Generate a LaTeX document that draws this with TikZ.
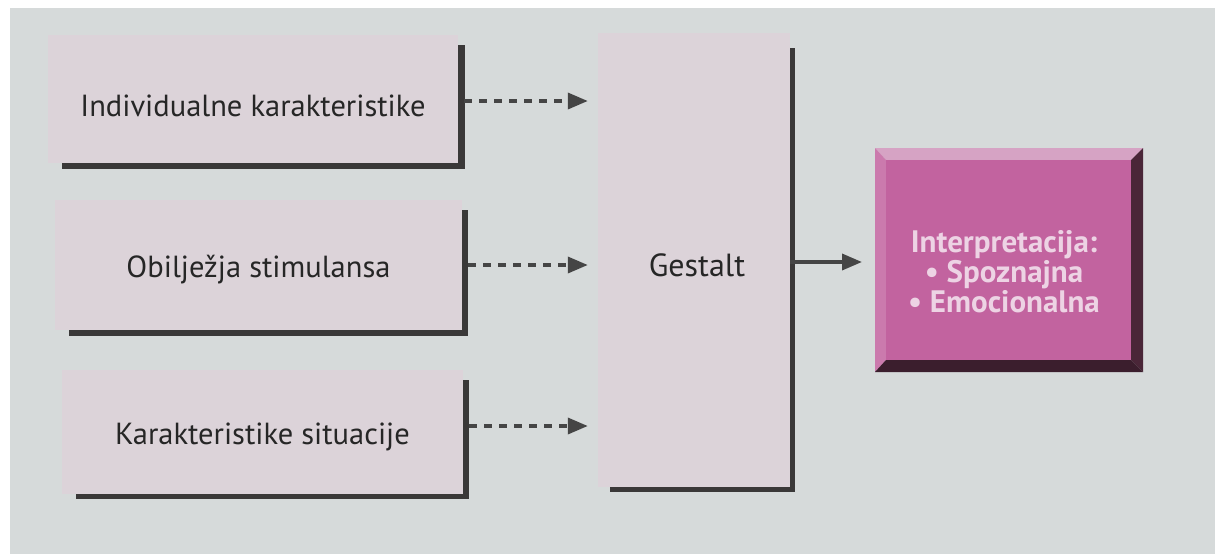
\documentclass[tikz,border=0pt]{standalone}
\usepackage{fontspec}
\setmainfont{PT Sans}
\usetikzlibrary{arrows.meta}
\definecolor{bgc}{HTML}{D6DADA}
\definecolor{boxc}{HTML}{DCD3D9}
\definecolor{shadc}{HTML}{3A3838}
\definecolor{arrc}{HTML}{454545}
\definecolor{purp}{HTML}{C2639F}
\definecolor{purplt}{HTML}{D6A3C4}
\definecolor{purpdk}{HTML}{4A2638}
\definecolor{purptx}{HTML}{EDD3E4}
\tikzset{
  inbox/.style={fill=boxc, draw=none, inner sep=0pt, font=\fontsize{30.5}{33}\selectfont, text=black!85},
  shad/.style={fill=shadc, draw=none},
  dasharrow/.style={draw=arrc, line width=3.5pt, dash pattern=on 8pt off 7pt, -{Triangle[length=20pt,width=16pt]}, shorten <=6pt, shorten >=10pt},
  solidarrow/.style={draw=arrc, line width=3.5pt, -{Triangle[length=20pt,width=16pt]}, shorten >=13pt}
}
\begin{document}
\begin{tikzpicture}[x=1pt,y=-1pt]
\useasboundingbox (0,0) rectangle (1215,554);
\fill[white] (0,0) rectangle (1215,554);
\fill[bgc] (10,8) rectangle (1215,554);
% shadows
\fill[shad] (62,45) rectangle (465,169);
\fill[shad] (69,210) rectangle (468,336);
\fill[shad] (76,380) rectangle (469,499);
\fill[shad] (610,48) rectangle (795,492);
% boxes
\node[inbox, minimum width=410pt, minimum height=128pt] (b1) at (253,99) {\raisebox{-7pt}[\height][\depth]{Individualne karakteristike}};
\node[inbox, minimum width=407pt, minimum height=130pt] (b2) at (258.5,265) {\raisebox{-5pt}[\height][\depth]{Obilježja stimulansa}};
\node[inbox, minimum width=401pt, minimum height=124pt] (b3) at (262.5,432) {\raisebox{-5pt}[\height][\depth]{Karakteristike situacije}};
\node[inbox, minimum width=192pt, minimum height=454pt] (g) at (694,260) {};
\node[font=\fontsize{32}{34}\selectfont, text=black!85] (gt) at (697,265) {Gestalt};
% purple box with bevel
\fill[purplt] (875,148) -- (1143,148) -- (1131,160) -- (886,160) -- cycle;
\fill[purp!85!white] (875,148) -- (886,160) -- (886,360) -- (875,372) -- cycle;
\fill[purpdk] (1143,148) -- (1143,372) -- (1131,360) -- (1131,160) -- cycle;
\fill[purpdk!80!black] (875,372) -- (1143,372) -- (1131,360) -- (886,360) -- cycle;
\node[fill=purp, inner sep=0pt, minimum width=245pt, minimum height=200pt] (p) at (1008.5,260) {};
\node[align=center, font=\bfseries\fontsize{31}{30}\selectfont, text=purptx] (pt) at (1004,272)
      {Interpretacija:\\ • Spoznajna\\ • Emocionalna};
% arrows
\draw[dasharrow] (b1.east |- 0,101) -- (g.west |- 0,101);
\draw[dasharrow] (b2.east |- 0,265) -- (g.west |- 0,265);
\draw[dasharrow] (b3.east |- 0,426) -- (g.west |- 0,426);
\coordinate (pw) at (875,262);
\draw[solidarrow] (g.east |- 0,262) -- (pw);
\end{tikzpicture}
\end{document}
